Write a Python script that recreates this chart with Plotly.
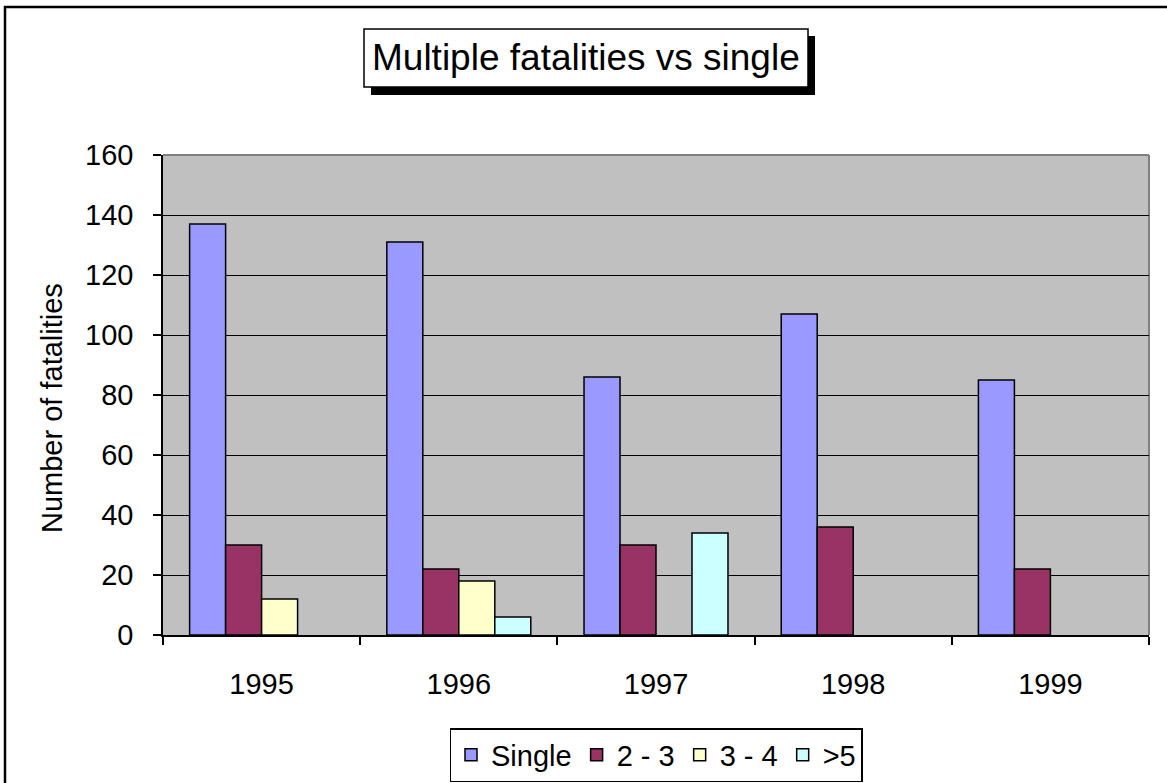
import plotly.graph_objects as go

years = ["1995", "1996", "1997", "1998", "1999"]
single = [137, 131, 86, 107, 85]
two_three = [30, 22, 30, 36, 22]
three_four = [12, 18, 0, 0, 0]
over_five = [0, 6, 34, 0, 0]

series = [
    ("Single", single, "#9999FF"),
    ("2 - 3", two_three, "#993366"),
    ("3 - 4", three_four, "#FFFFCC"),
    (">5", over_five, "#CCFFFF"),
]

W, H = 1167, 783
L, R, T, B = 163, 18, 155, 148
pw, ph = W - L - R, H - T - B

def px(x):
    return (x - L) / pw

def py(y):
    return (H - B - y) / ph

FONT = "Liberation Sans, Arial"
FS = 29

fig = go.Figure()
for name, vals, col in series:
    fig.add_trace(go.Bar(
        x=years, y=[v if v else None for v in vals], name=name,
        marker=dict(color=col, line=dict(color="black", width=1.5)),
    ))

fig.update_layout(
    width=W, height=H,
    margin=dict(l=L, r=R, t=T, b=B, autoexpand=False),
    paper_bgcolor="white",
    plot_bgcolor="#C0C0C0",
    barmode="group", bargap=0.27, bargroupgap=0,
    font=dict(family=FONT, color="black"),
    showlegend=True,
    legend=dict(
        orientation="h", x=px(656), xanchor="center", y=py(755), yanchor="middle",
        font=dict(size=FS), bordercolor="black", borderwidth=1.5,
        bgcolor="white", itemwidth=30, traceorder="normal",
    ),
    xaxis=dict(
        type="category", showline=True, linecolor="black", linewidth=1.5,
        ticks="outside", tickson="boundaries", ticklen=8, tickcolor="black",
        tickwidth=1.5, tickfont=dict(size=FS), showgrid=False,
        ticklabelstandoff=22,
    ),
    yaxis=dict(
        range=[0, 160], dtick=20, showline=True, linecolor="black", linewidth=1.5,
        ticks="outside", ticklen=8, tickcolor="black", tickwidth=1.5,
        tickfont=dict(size=FS), ticklabelstandoff=14,
        showgrid=True, gridcolor="black", gridwidth=1.3, zeroline=False,
    ),
)

# plot area border (top/right) in gray
fig.add_shape(type="line", xref="paper", yref="paper", x0=0, y0=1, x1=1, y1=1,
              line=dict(color="#808080", width=2), layer="below")
fig.add_shape(type="line", xref="paper", yref="paper", x0=1, y0=0, x1=1, y1=1,
              line=dict(color="#808080", width=2), layer="below")
# outer chart border
fig.add_shape(type="rect", xref="paper", yref="paper",
              x0=px(5), x1=px(1180), y0=py(7), y1=py(800),
              line=dict(color="black", width=2.5))
# title shadow and box
fig.add_shape(type="rect", xref="paper", yref="paper",
              x0=px(371), x1=px(815), y0=py(36), y1=py(95),
              fillcolor="black", line=dict(width=0))
fig.add_shape(type="rect", xref="paper", yref="paper",
              x0=px(364), x1=px(808), y0=py(29), y1=py(87),
              fillcolor="white", line=dict(color="black", width=1.5))

fig.add_annotation(
    text="Multiple fatalities vs single", xref="paper", yref="paper",
    x=px(586), y=py(58), xanchor="center", yanchor="middle", showarrow=False,
    font=dict(size=37),
)
fig.add_annotation(
    text="Number of fatalities", xref="paper", yref="paper",
    x=px(52), y=py(408), xanchor="center", yanchor="middle", showarrow=False,
    textangle=-90, font=dict(size=FS),
)

fig.write_html("out.html", config={"displayModeBar": False},
               post_script="document.body.style.margin='0';")
